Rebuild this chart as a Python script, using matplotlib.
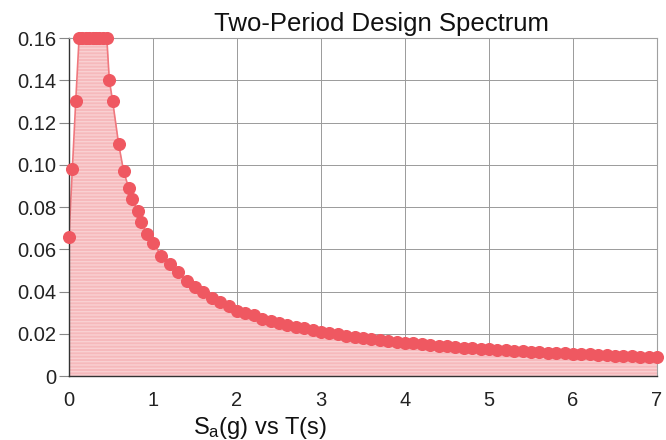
import matplotlib
matplotlib.use("Agg")
import matplotlib.pyplot as plt

plt.rcParams['font.family'] = ['Liberation Sans', 'DejaVu Sans']

# Period T (s)
period = [0.0, 0.04, 0.08, 0.12, 0.16, 0.20, 0.24, 0.28, 0.32, 0.36, 0.40, 0.45,
          0.48, 0.52, 0.59, 0.65, 0.71, 0.75, 0.82, 0.86, 0.93,
          1.0, 1.1, 1.2, 1.3, 1.4, 1.5, 1.6, 1.7, 1.8, 1.9,
          2.0, 2.1, 2.2, 2.3, 2.4, 2.5, 2.6, 2.7, 2.8, 2.9,
          3.0, 3.1, 3.2, 3.3, 3.4, 3.5, 3.6, 3.7, 3.8, 3.9,
          4.0, 4.1, 4.2, 4.3, 4.4, 4.5, 4.6, 4.7, 4.8, 4.9,
          5.0, 5.1, 5.2, 5.3, 5.4, 5.5, 5.6, 5.7, 5.8, 5.9,
          6.0, 6.1, 6.2, 6.3, 6.4, 6.5, 6.6, 6.7, 6.8, 6.9, 7.0]
# Spectral acceleration Sa (g)
sa = [0.066, 0.098, 0.130, 0.160, 0.160, 0.160, 0.160, 0.160, 0.160, 0.160, 0.160, 0.160,
      0.140, 0.130, 0.110, 0.097, 0.089, 0.084, 0.078, 0.073, 0.067,
      0.063, 0.057, 0.053, 0.049, 0.045, 0.042, 0.040, 0.037, 0.035, 0.033,
      0.031, 0.030, 0.029, 0.027, 0.026, 0.025, 0.024, 0.023, 0.0225, 0.022,
      0.021, 0.0205, 0.020, 0.019, 0.0185, 0.018, 0.0175, 0.017, 0.0166, 0.0162,
      0.0158, 0.0154, 0.015, 0.0147, 0.0144, 0.014, 0.0137, 0.0134, 0.0131, 0.0129,
      0.0126, 0.0124, 0.0122, 0.0119, 0.0117, 0.0115, 0.0113, 0.0111, 0.0109, 0.0107,
      0.0105, 0.0103, 0.0102, 0.0100, 0.0099, 0.0097, 0.0095, 0.0094, 0.0092, 0.0091, 0.0089]

x_ticks = [0, 1, 2, 3, 4, 5, 6, 7]
y_ticks = [0, 0.02, 0.04, 0.06, 0.08, 0.10, 0.12, 0.14, 0.16]
y_labels = ['0', '0.02', '0.04', '0.06', '0.08', '0.10', '0.12', '0.14', '0.16']

fig = plt.figure(figsize=(6.66, 4.40), dpi=100)
ax = fig.add_axes([69/666, 1 - 376/440, (657-69)/666, (376-38)/440])

ax.fill_between(period, sa, 0, color='#f6b9bc', linewidth=0, zorder=1)
ax.fill_between(period, sa, 0, facecolor='none', edgecolor='#f9d0d2', hatch='-----',
                linewidth=0, zorder=1.1)
ax.plot(period, sa, color='#f0787e', linewidth=1.2, zorder=2)
ax.plot(period, sa, linestyle='none', marker='o', markersize=8.4,
        markerfacecolor='#ef5861', markeredgecolor='#ef5861', zorder=3, clip_on=False)

ax.set_xlim(0, 7)
ax.set_ylim(0, 0.16)
ax.set_xticks(x_ticks)
ax.set_xticklabels([str(v) for v in x_ticks])
ax.set_yticks(y_ticks)
ax.set_yticklabels(y_labels)
ax.grid(True, color='#9a9a9a', linewidth=0.7, zorder=0)
ax.set_axisbelow(True)
ax.tick_params(axis='both', labelsize=14.5, colors='#222222')
ax.tick_params(axis='y', length=7, width=0.8, pad=2, color='#888888')
ax.tick_params(axis='x', length=0, pad=11)
for side in ['top', 'right']:
    ax.spines[side].set_color('#a0a0a0')
    ax.spines[side].set_linewidth(0.8)
for side in ['left', 'bottom']:
    ax.spines[side].set_color('#333333')
    ax.spines[side].set_linewidth(1.0)

fig.text(382/666, 1 - 24/440, 'Two-Period Design Spectrum', ha='center', va='center',
         fontsize=18.5, color='#111111')
fig.text(260/666, 1 - 428/440, r'$\mathregular{S_a}$(g) vs T(s)', ha='center', va='center',
         fontsize=17, color='#111111')

fig.savefig('out.png', dpi=100)
